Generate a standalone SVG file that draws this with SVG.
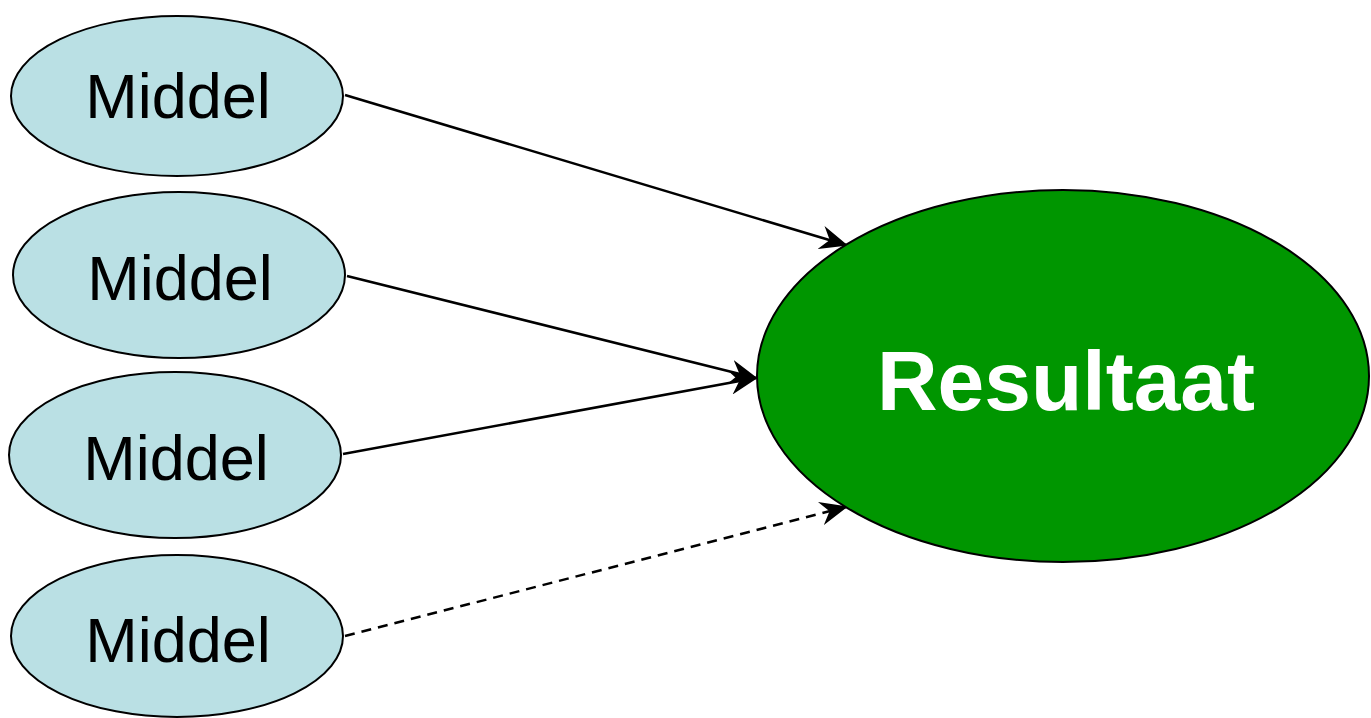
<svg xmlns="http://www.w3.org/2000/svg" width="1371" height="718" viewBox="0 0 1371 718">
<style>
.mid{fill:#bae0e4;stroke:#000;stroke-width:2}
.res{fill:#009600;stroke:#000;stroke-width:2}
.t{font-family:"Liberation Sans",Arial,sans-serif;font-size:63px;fill:#000;text-anchor:middle}
.tr{font-family:"Liberation Sans",Arial,sans-serif;font-size:84px;font-weight:bold;fill:#fff;text-anchor:middle}
.c{stroke:#000;stroke-width:2.5;fill:none;marker-end:url(#ah)}
</style>
<defs>
<marker id="ah" viewBox="0 0 28 24" refX="26" refY="12" markerWidth="28" markerHeight="24" markerUnits="userSpaceOnUse" orient="auto">
<path d="M0,0 L28,12 L0,24 L9,12 Z" fill="#000"/>
</marker>
</defs>
<g id="connectors">
<line class="c" x1="345" y1="95" x2="846" y2="245"/>
<line class="c" x1="347" y1="276" x2="756" y2="378"/>
<line class="c" x1="343" y1="454" x2="756" y2="378"/>
<line class="c" x1="345" y1="636" x2="846" y2="507" stroke-dasharray="10,7"/>
</g>
<g id="middel1"><ellipse class="mid" cx="177" cy="96" rx="166" ry="80"/><text class="t" x="178" y="118">Middel</text></g>
<g id="middel2"><ellipse class="mid" cx="179" cy="275" rx="166" ry="83"/><text class="t" x="180" y="300">Middel</text></g>
<g id="middel3"><ellipse class="mid" cx="175" cy="455" rx="166" ry="83"/><text class="t" x="176" y="480">Middel</text></g>
<g id="middel4"><ellipse class="mid" cx="177" cy="636" rx="166" ry="81"/><text class="t" x="178" y="662">Middel</text></g>
<g id="resultaat"><ellipse class="res" cx="1063" cy="376" rx="306" ry="186"/><text class="tr" x="1066" y="410">Resultaat</text></g>
</svg>
